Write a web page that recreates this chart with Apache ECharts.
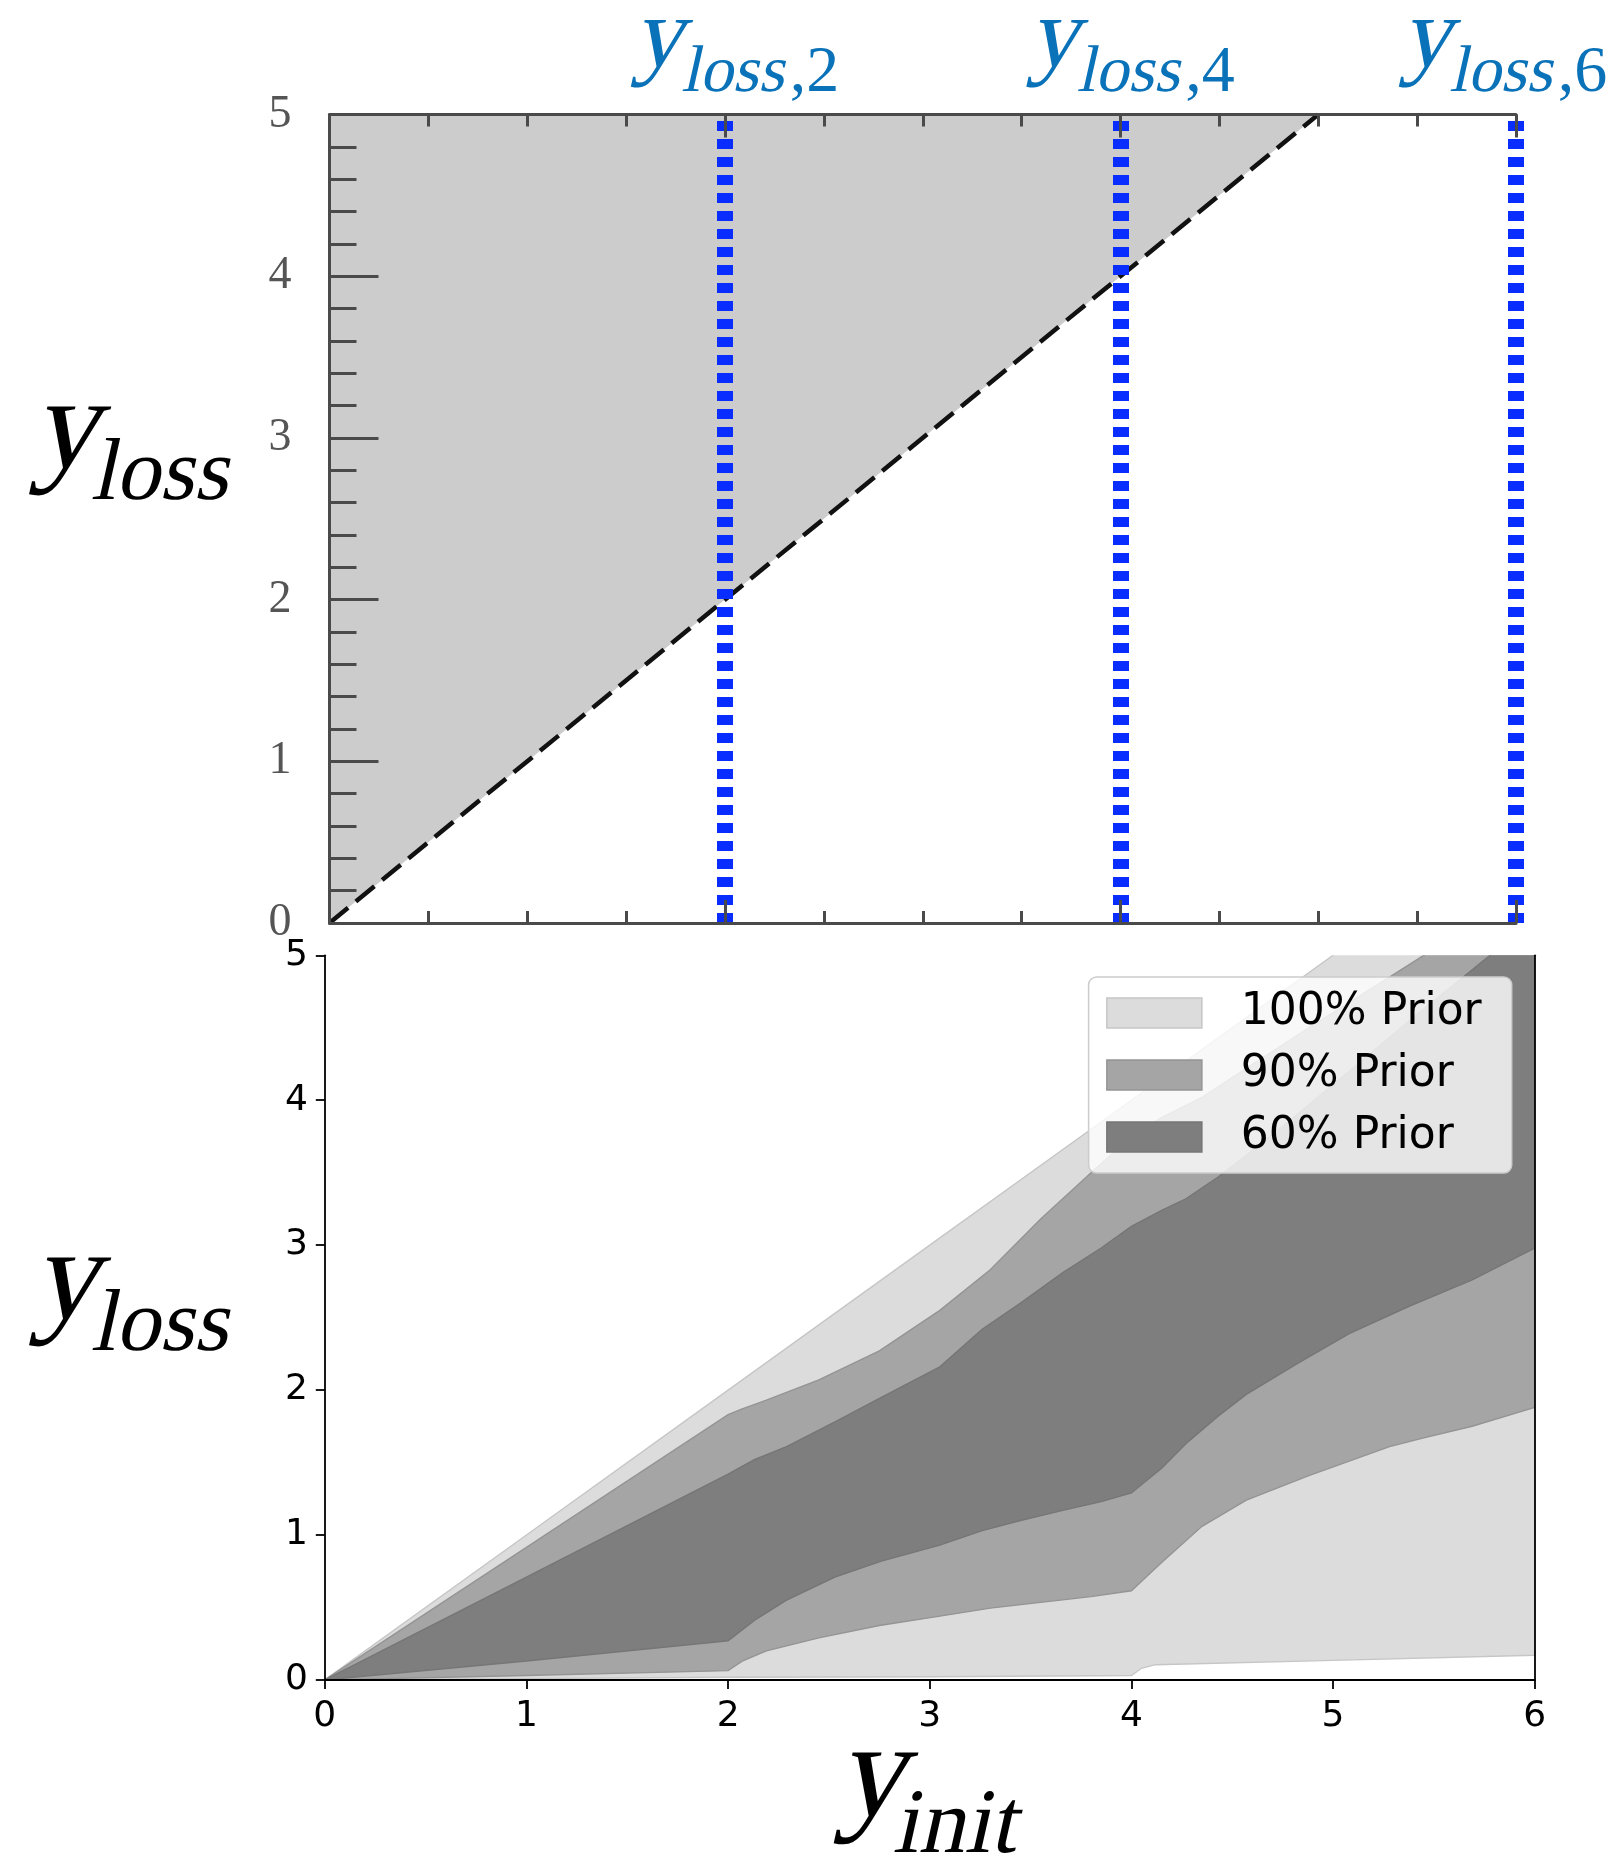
<!DOCTYPE html>
<html>
<head>
<meta charset="utf-8">
<script src="https://cdn.jsdelivr.net/npm/echarts@6/dist/echarts.min.js"></script>
<style>
  html, body { margin: 0; padding: 0; background: #ffffff; }
  #chart { width: 1624px; height: 1865px; }
</style>
</head>
<body>
<div id="chart"></div>
<script>
// ---------- Upper panel: region y_loss >= y_init ----------
const regionX = [0, 5];
const regionLower = [0, 5];      // the diagonal y_loss = y_init
const regionUpper = [5, 5];      // top of the panel
const diagX = [0, 5];
const diagY = [0, 5];
const thresholdX = [2, 4, 6];
const thresholdSubs = ['2', '4', '6'];

// ---------- Lower panel: prior bands ----------
const bandNames = ['100% Prior', '90% Prior', '60% Prior'];

const x100  = [0, 1, 2, 3, 4, 4.05, 4.12, 5, 6];
const lo100 = [0, 0.009, 0.018, 0.022, 0.03, 0.08, 0.105, 0.135, 0.17];
const hi100 = [0, 1, 2, 3, 4, 4.05, 4.12, 5, 6];

const x90  = [0, 1, 2, 2.07, 2.19, 2.45, 2.75, 3.05, 3.3, 3.55, 3.8, 4, 4.15, 4.35, 4.57, 4.88, 5.28, 5.45, 5.69, 6];
const lo90 = [0, 0.03, 0.064, 0.13, 0.2, 0.29, 0.375, 0.44, 0.495, 0.535, 0.575, 0.615, 0.81, 1.06, 1.24, 1.41, 1.61, 1.67, 1.75, 1.88];
const hi90 = [0, 0.915, 1.83, 1.87, 1.93, 2.07, 2.27, 2.55, 2.83, 3.18, 3.5, 3.75, 3.88, 4.02, 4.22, 4.5, 4.85, 5.0, 5.2, 5.45];

const x60  = [0, 1, 2, 2.13, 2.29, 2.53, 2.76, 3.05, 3.26, 3.45, 3.66, 3.85, 4, 4.15, 4.27, 4.43, 4.57, 4.82, 5.08, 5.38, 5.69, 6];
const lo60 = [0, 0.13, 0.27, 0.41, 0.55, 0.71, 0.82, 0.93, 1.03, 1.1, 1.17, 1.23, 1.29, 1.46, 1.63, 1.82, 1.97, 2.18, 2.39, 2.58, 2.76, 2.98];
const hi60 = [0, 0.71, 1.42, 1.52, 1.61, 1.78, 1.95, 2.16, 2.42, 2.6, 2.81, 2.98, 3.13, 3.24, 3.32, 3.47, 3.62, 3.9, 4.2, 4.55, 4.9, 5.25];

const bandFill = ['#dcdcdc', '#a5a5a5', '#7e7e7e'];
const bandEdge = ['#c6c6c6', '#949494', '#767676'];

const chart = echarts.init(document.getElementById('chart'), null, { renderer: 'canvas' });

function pairs(xs, ys) { return xs.map((x, i) => [x, ys[i]]); }

// filled region between a lower and an upper curve (fill_between)
function between(name, xs, lo, hi, fill, edge, xi, yi, z) {
  return {
    type: 'custom', name: name, xAxisIndex: xi, yAxisIndex: yi,
    clip: true, silent: true, z: z,
    itemStyle: { color: fill },
    data: [[xs[0], lo[0]]],
    encode: { x: 0, y: 1 },
    renderItem: function (params, api) {
      const pts = [];
      for (let i = 0; i < xs.length; i++) pts.push(api.coord([xs[i], hi[i]]));
      for (let i = xs.length - 1; i >= 0; i--) pts.push(api.coord([xs[i], lo[i]]));
      return {
        type: 'polygon', shape: { points: pts },
        style: { fill: fill, stroke: edge, lineWidth: edge ? 1.4 : 0 }
      };
    }
  };
}

const topAxisLine = { lineStyle: { color: '#4a4a4a', width: 3 } };
const topTick = (len) => ({ show: true, inside: true, length: len, lineStyle: { color: '#4a4a4a', width: 3 } });
const blackLine = { lineStyle: { color: '#000000', width: 1.8 } };
const tickFont = { fontFamily: 'DejaVu Sans', fontSize: 36, color: '#000000' };

const option = {
  animation: false,
  backgroundColor: '#ffffff',
  grid: [
    { left: 329.5, top: 114.5, width: 1186.5, height: 808.5 },
    { left: 324.8, top: 955.3, width: 1209.9, height: 724.6 }
  ],
  xAxis: [
    { gridIndex: 0, type: 'value', min: 0, max: 6, interval: 2, position: 'bottom', z: 5,
      axisLine: topAxisLine, axisTick: topTick(23),
      minorTick: { show: true, splitNumber: 4, length: 12, lineStyle: { color: '#4a4a4a', width: 3 } },
      axisLabel: { show: false }, splitLine: { show: false } },
    { gridIndex: 0, type: 'value', min: 0, max: 6, interval: 2, position: 'top', z: 5,
      axisLine: topAxisLine, axisTick: topTick(23),
      minorTick: { show: true, splitNumber: 4, length: 12, lineStyle: { color: '#4a4a4a', width: 3 } },
      axisLabel: { show: false }, splitLine: { show: false } },
    { gridIndex: 1, type: 'value', min: 0, max: 6, interval: 1, position: 'bottom', z: 5,
      axisLine: blackLine,
      axisTick: { show: true, inside: false, length: 9, lineStyle: { color: '#000', width: 1.8 } },
      axisLabel: Object.assign({ margin: 19 }, tickFont), splitLine: { show: false } },
    { gridIndex: 1, type: 'value', min: 0, max: 6, position: 'top', z: 5,
      axisLine: blackLine, axisTick: { show: false }, axisLabel: { show: false }, splitLine: { show: false } }
  ],
  yAxis: [
    { gridIndex: 0, type: 'value', min: 0, max: 5, interval: 1, position: 'left', z: 5,
      axisLine: Object.assign({ onZero: false }, topAxisLine), axisTick: topTick(49),
      minorTick: { show: true, splitNumber: 5, length: 27, lineStyle: { color: '#4a4a4a', width: 3 } },
      axisLabel: { margin: 38, fontFamily: 'Liberation Serif', fontSize: 46, color: '#555555' },
      splitLine: { show: false } },
    { gridIndex: 1, type: 'value', min: 0, max: 5, interval: 1, position: 'left', z: 5,
      axisLine: Object.assign({ onZero: false }, blackLine),
      axisTick: { show: true, inside: false, length: 9, lineStyle: { color: '#000', width: 1.8 } },
      axisLabel: Object.assign({ margin: 17 }, tickFont), splitLine: { show: false } },
    { gridIndex: 1, type: 'value', min: 0, max: 5, position: 'right', z: 5,
      axisLine: Object.assign({ onZero: false }, blackLine), axisTick: { show: false },
      axisLabel: { show: false }, splitLine: { show: false } }
  ],
  legend: {
    selectedMode: false,
    orient: 'vertical',
    left: 1088.6, top: 977, z: 20,
    icon: 'rect', itemWidth: 95, itemHeight: 30, itemGap: 18,
    padding: [14, 30, 14, 17.5],
    backgroundColor: 'rgba(255,255,255,0.8)',
    borderColor: '#cccccc', borderWidth: 1.5, borderRadius: 8,
    textStyle: { fontFamily: 'DejaVu Sans', fontSize: 44, color: '#000000', padding: [0, 0, 0, 34] },
    data: bandNames.map((n, i) => ({ name: n, itemStyle: { color: bandFill[i], borderColor: bandEdge[i], borderWidth: 1.5 } }))
  },
  series: [
    // shaded region above the diagonal
    between('region', regionX, regionLower, regionUpper, '#cccccc', null, 0, 0, 1),
    // dashed diagonal
    { type: 'line', name: 'diagonal', xAxisIndex: 0, yAxisIndex: 0,
      data: pairs(diagX, diagY), symbol: 'none', silent: true,
      lineStyle: { color: '#111111', width: 4.5, type: [24, 10] }, z: 3 },
    // dotted thresholds
    { type: 'line', name: 'thresholds', xAxisIndex: 0, yAxisIndex: 0, data: [], silent: true, z: 6,
      markLine: {
        silent: true, symbol: 'none', animation: false,
        label: { show: false },
        lineStyle: { color: '#0a2dff', width: 16, type: [10, 8], cap: 'butt' },
        data: thresholdX.map(x => ({ xAxis: x }))
      } },
    between(bandNames[0], x100, lo100, hi100, bandFill[0], bandEdge[0], 2, 1, 1),
    between(bandNames[1], x90, lo90, hi90, bandFill[1], bandEdge[1], 2, 1, 1),
    between(bandNames[2], x60, lo60, hi60, bandFill[2], bandEdge[2], 2, 1, 1)
  ]
};

chart.setOption(option);

// ---------- italic math symbols (slanted serif) ----------
const serifFam = '"Liberation Serif", serif';
const SLANT = -0.22;
const measureCtx = document.createElement('canvas').getContext('2d');
function textWidth(text, size) {
  measureCtx.font = size + 'px ' + serifFam;
  return measureCtx.measureText(text).width;
}
function sym(x, y, text, size, color, slanted) {
  return { type: 'text', x: x, y: y, z: 30, silent: true,
    skewX: slanted === false ? 0 : SLANT,
    style: { text: text, font: size + 'px ' + serifFam, fill: color,
             align: 'left', verticalAlign: 'middle' } };
}

const graphics = [
  sym(40, 432, 'y', 132, '#000'), sym(96, 476, 'loss', 88, '#000'),
  sym(40, 1283, 'y', 132, '#000'), sym(96, 1327, 'loss', 88, '#000'),
  sym(845, 1779, 'y', 136, '#000'), sym(898, 1828, 'init', 92, '#000')
];

const blue = '#0a72b8';
const subSize = 66;
thresholdX.forEach((x, i) => {
  const px = chart.convertToPixel({ xAxisIndex: 0 }, x);
  const left = Math.min(px - 86, 1612 - 205);
  graphics.push(sym(left, 40, 'y', 100, blue));
  graphics.push(sym(left + 46, 74, 'loss', subSize, blue));
  graphics.push(sym(left + 46 + textWidth('loss', subSize) + 2, 74, ',' + thresholdSubs[i], subSize, blue, false));
});

chart.setOption({ graphic: graphics });
</script>
</body>
</html>
